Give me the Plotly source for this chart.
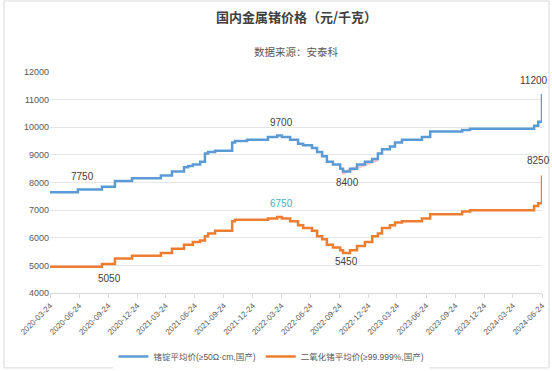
import plotly.graph_objects as go

dates = ["2020-03-24", "2020-06-20", "2020-09-04", "2020-10-15", "2020-12-08",
         "2021-03-09", "2021-04-13", "2021-05-21", "2021-06-03", "2021-06-18",
         "2021-07-11", "2021-07-26", "2021-08-05", "2021-08-27", "2021-10-20",
         "2021-10-29", "2021-12-06", "2022-02-10", "2022-03-11", "2022-03-26",
         "2022-04-21", "2022-05-16", "2022-06-01", "2022-06-29", "2022-07-15",
         "2022-07-31", "2022-08-15", "2022-09-03", "2022-09-26", "2022-10-05",
         "2022-10-27", "2022-11-18", "2022-12-13", "2023-01-05", "2023-01-23",
         "2023-02-05", "2023-03-02", "2023-03-18", "2023-04-09", "2023-06-11",
         "2023-07-07", "2023-10-16", "2023-11-10", "2024-05-30", "2024-06-12",
         "2024-06-24"]
ingot = [7650, 7750, 7850, 8050, 8150,
         8250, 8400, 8550, 8600, 8650,
         8750, 9050, 9100, 9150, 9450,
         9500, 9550, 9650, 9700, 9650,
         9550, 9400, 9350, 9250, 9100,
         8950, 8750, 8650, 8500, 8400,
         8500, 8650, 8750, 8850, 9050,
         9200, 9300, 9450, 9550, 9650,
         9850, 9900, 9950, 10050, 10200,
         11200]
dioxide = [4950, 4950, 5050, 5250, 5350,
           5450, 5600, 5750, 5750, 5850,
           5900, 6050, 6150, 6250, 6600,
           6650, 6650, 6700, 6750, 6700,
           6600, 6450, 6350, 6250, 6050,
           5950, 5750, 5650, 5550, 5450,
           5550, 5700, 5850, 6050, 6150,
           6350, 6450, 6550, 6600, 6700,
           6850, 6950, 7000, 7150, 7250,
           8250]

# faint pink highlight stroke near the ingot trough
pink_dates = ["2022-10-01", "2023-01-24"]
pink_vals = [8330, 8840]

tick_dates = ["2020-03-24", "2020-06-24", "2020-09-24", "2020-12-24",
              "2021-03-24", "2021-06-24", "2021-09-24", "2021-12-24",
              "2022-03-24", "2022-06-24", "2022-09-24", "2022-12-24",
              "2023-03-24", "2023-06-24", "2023-09-24", "2023-12-24",
              "2024-03-24", "2024-06-24"]

# labels: (date, value, text, xshift, yshift, color)
labels = [("2020-07-03", 7750, "7750", 0, 13, "#404040"),
          ("2022-03-26", 9700, "9700", 0, 13, "#404040"),
          ("2022-10-18", 8400, "8400", 0, -11, "#404040"),
          ("2024-06-24", 11200, "11200", -8, 14, "#404040"),
          ("2020-09-29", 5050, "5050", 0, -15, "#404040"),
          ("2022-03-26", 6750, "6750", 0, 14, "#4bacc6"),
          ("2022-10-15", 5450, "5450", 0, -9, "#404040"),
          ("2024-06-24", 8250, "8250", -4, 15, "#404040")]

fig = go.Figure()
fig.add_trace(go.Scatter(x=pink_dates, y=pink_vals, mode="lines",
                         line=dict(color="rgba(245,130,140,0.45)", width=3.5),
                         showlegend=False, hoverinfo="skip"))
fig.add_trace(go.Scatter(x=dates, y=ingot, mode="lines", line_shape="hv",
                         line=dict(color="#5b9bd5", width=2.5),
                         name="锗锭平均价(≥50Ω·cm,国产)"))
fig.add_trace(go.Scatter(x=dates, y=dioxide, mode="lines", line_shape="hv",
                         line=dict(color="#ed7d31", width=2.5),
                         name="二氧化锗平均价(≥99.999%,国产)"))

for d, v, t, xs, ys, c in labels:
    fig.add_annotation(x=d, y=v, text=t, showarrow=False, xshift=xs, yshift=ys,
                       font=dict(size=10, color=c, family="Liberation Sans"))

fig.add_annotation(text="<b>国内金属锗价格（元/千克）</b>", xref="paper", yref="paper",
                   x=0.5, y=1.25, xanchor="center", yanchor="middle", showarrow=False,
                   font=dict(size=13, color="#404040", family="Noto Sans CJK SC"))
fig.add_annotation(text="数据来源：安泰科", xref="paper", yref="paper",
                   x=0.5, y=1.094, xanchor="center", yanchor="middle", showarrow=False,
                   font=dict(size=10.5, color="#595959", family="Noto Sans CJK SC"))

fig.add_shape(type="rect", xref="paper", yref="paper",
              x0=-0.0935, x1=1.0142, y0=-0.339, y1=1.3213,
              line=dict(color="#d9d9d9", width=1))

fig.update_layout(
    width=552, height=371,
    margin=dict(l=50, r=10, t=72, b=78, autoexpand=False),
    paper_bgcolor="white", plot_bgcolor="white",
    showlegend=True,
    legend=dict(orientation="h", x=0.45, xanchor="center", y=-0.222, yanchor="top",
                font=dict(size=8.5, color="#595959",
                          family="Liberation Sans, Noto Sans CJK SC"),
                itemwidth=30, tracegroupgap=0),
    xaxis=dict(type="date", range=["2020-03-24", "2024-06-24"],
               tickvals=tick_dates, ticktext=tick_dates, tickangle=-45,
               showgrid=False, showline=True, linecolor="#d9d9d9", linewidth=1,
               ticks="outside", ticklen=4, tickcolor="#d9d9d9",
               tickfont=dict(size=8, color="#595959", family="Liberation Sans"),
               zeroline=False, automargin=False),
    yaxis=dict(range=[4000, 12000], tickvals=list(range(4000, 12001, 1000)),
               tickformat="d",
               showgrid=True, gridcolor="#e6e6e6", gridwidth=1,
               showline=False, zeroline=False, ticks="",
               tickfont=dict(size=9, color="#595959", family="Liberation Sans"),
               automargin=False),
)

fig.write_html("out.html", config={"displayModeBar": False},
               post_script="document.body.style.margin='0';document.body.style.overflow='hidden';")
